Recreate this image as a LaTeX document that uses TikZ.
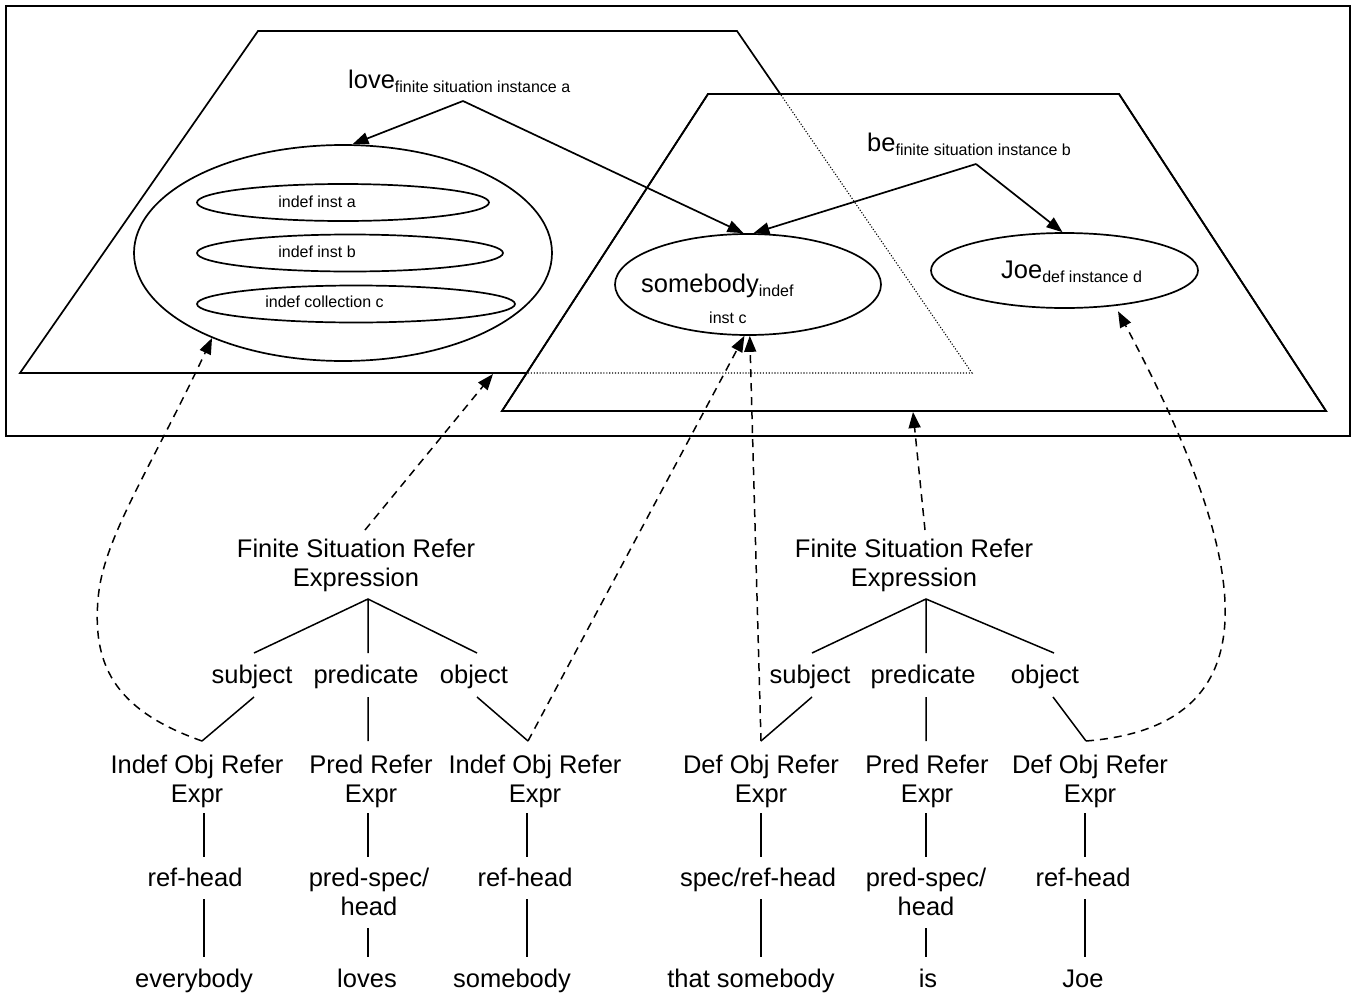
\documentclass[tikz,border=0pt]{standalone}
\usepackage{fontspec}
\setmainfont{Liberation Sans}
\usetikzlibrary{arrows.meta,shapes.geometric}

\newcommand\bigtxt{\fontsize{25.5}{29}\selectfont}
\newcommand\smalltxt{\fontsize{16}{18}\selectfont}
\newcommand\lowsub[1]{\raisebox{-4pt}{\smalltxt #1}}

\tikzset{
  frame/.style={line width=2.4pt},
  plane/.style={line width=1.7pt, line join=miter},
  hidden/.style={line width=1.1pt, dash pattern=on 1.1pt off 1.8pt},
  blob/.style={draw, ellipse, line width=1.7pt, inner sep=0pt},
  relarrow/.style={line width=1.7pt, -{Triangle[length=16pt,width=12pt]}},
  refarrow/.style={line width=1.5pt, dash pattern=on 8pt off 6pt, -{Triangle[length=16pt,width=12pt]}},
  branch/.style={line width=1.5pt},
  % multi-line labels are anchored at the baseline of their last line
  lbl/.style={inner sep=0pt, font=\bigtxt, align=center, anchor=base},
  tiny/.style={inner sep=0pt, font=\smalltxt, anchor=base},
}

\begin{document}
\begin{tikzpicture}[x=1pt,y=-1pt]
\useasboundingbox (0,0) rectangle (1352,996);

% situation frame
\draw[frame] (6,6) rectangle (1350,436);

% situation a (left plane)
\draw[plane] (258,31) -- (737,31) -- (972,373) -- (20,373) -- cycle;

% situation b (right plane), covering a; the hidden part of a is dotted
\filldraw[plane, fill=white] (708,94) -- (1119,94) -- (1326,411) -- (502,411) -- cycle;
\begin{scope}
  \clip (708,94) -- (1119,94) -- (1326,411) -- (502,411) -- cycle;
  \draw[hidden] (258,31) -- (737,31) -- (972,373) -- (20,373) -- cycle;
\end{scope}
\draw[plane] (708,94) -- (1119,94) -- (1326,411) -- (502,411) -- cycle;

% referents
\node[blob, minimum width=418pt, minimum height=216pt] (big) at (343,253) {};
\node[blob, minimum width=292pt, minimum height=37pt] (ia) at (343,202.5) {};
\node[blob, minimum width=306pt, minimum height=37pt] (ib) at (350,253) {};
\node[blob, minimum width=318pt, minimum height=37pt] (ic) at (356,304) {};
\node[tiny] (iat) at (317,207) {indef inst a};
\node[tiny] (ibt) at (317,257) {indef inst b};
\node[tiny] (ict) at (324.5,307) {indef collection c};

\node[blob, minimum width=266pt, minimum height=101pt] (sb) at (748,284.5) {};
\node[inner sep=0pt, anchor=base west, font=\bigtxt] (sbt) at (641,292) {somebody\lowsub{indef}};
\node[tiny, anchor=base west] (sbt2) at (709,323) {inst c};

\node[blob, minimum width=267pt, minimum height=75pt] (joe) at (1064.5,270.5) {};
\node[inner sep=0pt, anchor=base west, font=\bigtxt] (joet) at (1001,278) {Joe\lowsub{def instance d}};

% situation predicates
\node[inner sep=0pt, anchor=base west, font=\bigtxt] (love) at (348,88) {love\lowsub{finite situation instance a}};
\node[inner sep=0pt, anchor=base west, font=\bigtxt] (be) at (867,151) {be\lowsub{finite situation instance b}};
\coordinate (loveapex) at (463,101);
\coordinate (beapex) at (976,164);
\draw[relarrow] (loveapex) -- (big.85);
\draw[relarrow] (loveapex) -- (sb.95);
\draw[relarrow] (beapex) -- (sb.84);
\draw[relarrow] (beapex) -- (joe.93);

% first tree
\node[lbl] (fs1) at (356,586) {Finite Situation Refer\\Expression};
\node[lbl] (subj1) at (252,683) {subject};
\node[lbl] (pred1) at (366,683) {predicate};
\node[lbl] (obj1) at (474,683) {object};
\node[lbl] (ioa) at (197,802) {Indef Obj Refer\\Expr};
\node[lbl] (pra) at (371,802) {Pred Refer\\Expr};
\node[lbl] (iob) at (535,802) {Indef Obj Refer\\Expr};
\node[lbl] (rha) at (195,886) {ref-head};
\node[lbl] (psa) at (369,915) {pred-spec/\\head};
\node[lbl] (rhb) at (525,886) {ref-head};
\node[lbl] (w1) at (194,987) {everybody};
\node[lbl] (w2) at (367,987) {loves};
\node[lbl] (w3) at (512,987) {somebody};

\coordinate (t1) at (368,599);
\coordinate (s1t) at (254,653);  \coordinate (s1b) at (254,697);
\coordinate (p1t) at (368,653);  \coordinate (p1b) at (368,697);
\coordinate (o1t) at (477,653);  \coordinate (o1b) at (477,697);
\coordinate (ioat) at (202,741);
\coordinate (prat) at (368,741);
\coordinate (iobt) at (528,741);
\draw[branch] (s1t) -- (t1) -- (o1t) (t1) -- (p1t);
\draw[branch] (s1b) -- (ioat) (p1b) -- (prat) (o1b) -- (iobt);
\draw[branch] (204,813) -- (204,857) (204,899) -- (204,957);
\draw[branch] (368,813) -- (368,857) (368,928) -- (368,957);
\draw[branch] (527,813) -- (527,857) (527,899) -- (527,957);

% second tree
\node[lbl] (fs2) at (914,586) {Finite Situation Refer\\Expression};
\node[lbl] (subj2) at (810,683) {subject};
\node[lbl] (pred2) at (923,683) {predicate};
\node[lbl] (obj2) at (1045,683) {object};
\node[lbl] (doa) at (761,802) {Def Obj Refer\\Expr};
\node[lbl] (prb) at (927,802) {Pred Refer\\Expr};
\node[lbl] (dob) at (1090,802) {Def Obj Refer\\Expr};
\node[lbl] (srh) at (758,886) {spec/ref-head};
\node[lbl] (psb) at (926,915) {pred-spec/\\head};
\node[lbl] (rhc) at (1083,886) {ref-head};
\node[lbl] (w4) at (751,987) {that somebody};
\node[lbl] (w5) at (928,987) {is};
\node[lbl] (w6) at (1083,987) {Joe};

\coordinate (t2) at (926,599);
\coordinate (s2t) at (812,653);  \coordinate (s2b) at (812,697);
\coordinate (p2t) at (926,653);  \coordinate (p2b) at (926,697);
\coordinate (o2t) at (1054,653); \coordinate (o2b) at (1053,697);
\coordinate (doat) at (761,741);
\coordinate (prbt) at (926,741);
\coordinate (dobt) at (1086,741);
\draw[branch] (s2t) -- (t2) -- (o2t) (t2) -- (p2t);
\draw[branch] (s2b) -- (doat) (p2b) -- (prbt) (o2b) -- (dobt);
\draw[branch] (761,813) -- (761,857) (761,899) -- (761,957);
\draw[branch] (926,813) -- (926,857) (926,928) -- (926,957);
\draw[branch] (1085,813) -- (1085,857) (1085,899) -- (1085,957);

% reference links
\coordinate (sitA) at (493,374);
\coordinate (sitB) at (913,412);
\coordinate (fs1top) at (365,530);
\coordinate (fs2top) at (925,530);
\draw[refarrow] (ioat) .. controls (120,712) and (92,670) .. (98,600)
                       .. controls (102,540) and (150,470) .. (big.213);
\draw[refarrow] (fs1top) -- (sitA);
\draw[refarrow] (iobt) -- (sb.266);
\draw[refarrow] (doat) -- (sb.272);
\draw[refarrow] (fs2top) -- (sitB);
\draw[refarrow, shorten >=6pt] (dobt) .. controls (1290,725) and (1240,540) .. (joe.-35);
\end{tikzpicture}
\end{document}
